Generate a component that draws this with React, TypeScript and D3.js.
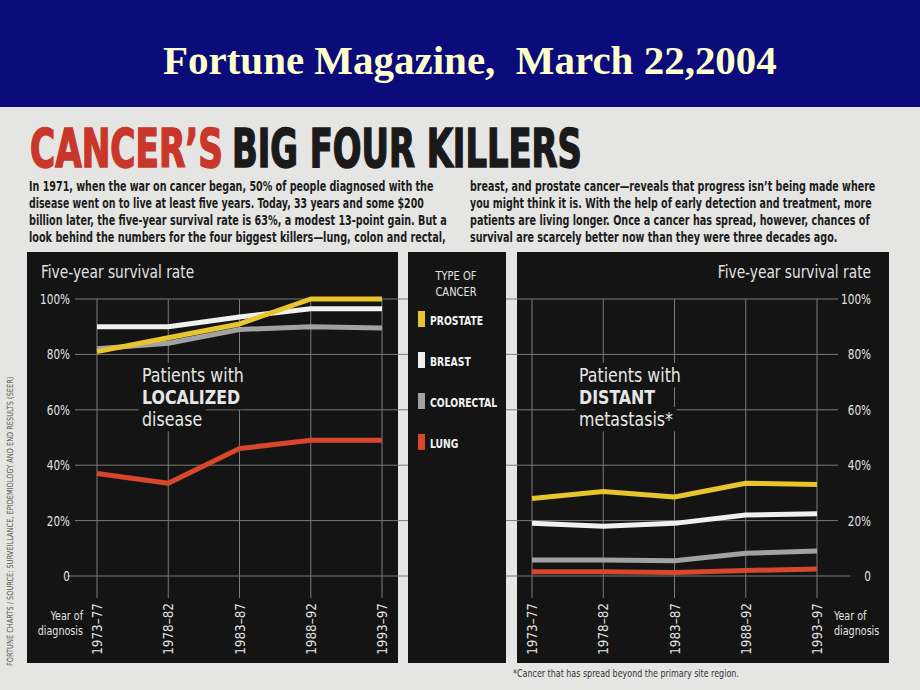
import React, { useLayoutEffect, useRef, useState } from 'react';
import * as d3 from 'd3';

// ---------- data ----------
const periods = ['1973–77', '1978–82', '1983–87', '1988–92', '1993–97'];
const cancerTypes = ['PROSTATE', 'BREAST', 'COLORECTAL', 'LUNG'];
const typeColors = ['#e6c62c', '#f0f0ee', '#a2a2a2', '#d8472b'];

const localizedProstate = [81, 86, 91, 100, 100];
const localizedBreast = [90, 90, 93.5, 96.5, 96.5];
const localizedColorectal = [82, 84, 89, 90, 89.5];
const localizedLung = [37, 33.5, 46, 49, 49];

const distantProstate = [28, 30.5, 28.5, 33.5, 33];
const distantBreast = [19, 18, 19, 22, 22.5];
const distantColorectal = [5.8, 5.8, 5.5, 8.2, 9];
const distantLung = [1.5, 1.5, 1.3, 2, 2.5];

const yTicks = [0, 20, 40, 60, 80, 100];
const yTickLabels = ['0', '20%', '40%', '60%', '80%', '100%'];

const bodyLeft = [
  'In 1971, when the war on cancer began, 50% of people diagnosed with the',
  'disease went on to live at least five years. Today, 33 years and some $200',
  'billion later, the five-year survival rate is 63%, a modest 13-point gain. But a',
  'look behind the numbers for the four biggest killers—lung, colon and rectal,',
];
const bodyRight = [
  'breast, and prostate cancer—reveals that progress isn’t being made where',
  'you might think it is. With the help of early detection and treatment, more',
  'patients are living longer. Once a cancer has spread, however, chances of',
  'survival are scarcely better now than they were three decades ago.',
];
const bodyLeftWidths = [405, 395, 418, 417];
const bodyRightWidths = [406, 402, 400, 368];

const NARROW = "'DejaVu Sans Condensed', 'Liberation Sans Narrow', Arial, sans-serif";

// ---------- helpers ----------
type LabelLine = { text: string; bold?: boolean };

function Txt({ x, y, sx = 1, rot = 0, children, ...rest }: any) {
  return (
    <text transform={`translate(${x},${y})${rot ? ` rotate(${rot})` : ''} scale(${sx},1)`} fontFamily={NARROW} {...rest}>
      {children}
    </text>
  );
}

// text horizontally scaled so that its rendered width equals `width`
function FitText({ x, y, width, rot = 0, children, ...rest }: any) {
  const ref = useRef<SVGTextElement | null>(null);
  const [s, setS] = useState(1);
  useLayoutEffect(() => {
    if (ref.current) {
      const w = ref.current.getComputedTextLength();
      if (w > 0) setS(width / w);
    }
  }, [width]);
  return (
    <text ref={ref} transform={`translate(${x},${y})${rot ? ` rotate(${rot})` : ''} scale(${s},1)`} fontFamily={NARROW} {...rest}>
      {children}
    </text>
  );
}

function BoxedLabel({ x, y, lines, fontSize, lineHeight, sx }: { x: number; y: number; lines: LabelLine[]; fontSize: number; lineHeight: number; sx: number }) {
  const refs = useRef<(SVGTextElement | null)[]>([]);
  const [boxes, setBoxes] = useState<{ x: number; y: number; w: number; h: number }[]>([]);
  useLayoutEffect(() => {
    const b = refs.current.map((el) => {
      if (!el) return { x: 0, y: 0, w: 0, h: 0 };
      const bb = el.getBBox();
      return { x: bb.x, y: bb.y, w: bb.width, h: bb.height };
    });
    setBoxes(b);
  }, []);
  return (
    <g transform={`translate(${x},${y}) scale(${sx},1)`}>
      {boxes.map((b, i) => (
        <rect key={'r' + i} x={b.x - 4} y={b.y - 1} width={b.w + 8} height={b.h + 2} fill="#141414" />
      ))}
      {lines.map((l, i) => (
        <text
          key={i}
          ref={(el) => { refs.current[i] = el; }}
          x={0}
          y={i * lineHeight}
          fontFamily={NARROW}
          fontSize={fontSize}
          fontWeight={l.bold ? 700 : 400}
          fill="#e6e6e6"
        >
          {l.text}
        </text>
      ))}
    </g>
  );
}

export default function App() {
  const W = 920, H = 690;
  const y = d3.scaleLinear().domain([0, 100]).range([576, 299]);
  const xLeft = d3.scalePoint<string>().domain(periods).range([97, 382]);
  const xRight = d3.scalePoint<string>().domain(periods).range([532, 817]);

  const leftSeries = [localizedLung, localizedColorectal, localizedBreast, localizedProstate];
  const rightSeries = [distantLung, distantColorectal, distantBreast, distantProstate];
  const seriesColors = [typeColors[3], typeColors[2], typeColors[1], typeColors[0]];

  const mkLine = (xs: d3.ScalePoint<string>) =>
    d3.line<number>().x((_, i) => xs(periods[i]) as number).y((d) => y(d));

  const panelFill = '#141414';
  const gridColor = '#7a7a7a';
  const textColor = '#e2e2e2';

  return (
    <svg width={W} height={H} style={{ position: 'absolute', left: 0, top: 0 }}>
      {/* page background */}
      <rect x={0} y={0} width={W} height={H} fill="#e5e5e3" />
      {/* blue banner */}
      <rect x={0} y={0} width={W} height={107} fill="#0b0b7c" />
      <FitText x={163} y={74} width={614} fontFamily="'Liberation Serif', 'Times New Roman', serif" fontWeight={700} fontSize={41} fill="#ffffcc" style={{ whiteSpace: 'pre' }}>
        {'Fortune Magazine,  March 22,2004'}
      </FitText>

      {/* headline */}
      <FitText x={30} y={167} width={193} fontWeight={700} fontSize={53} fill="#c8372a" stroke="#c8372a" strokeWidth={1.6}>CANCER’S</FitText>
      <FitText x={232} y={167} width={350} fontWeight={700} fontSize={53} fill="#1a1a1a" stroke="#1a1a1a" strokeWidth={1.6}>BIG FOUR KILLERS</FitText>

      {/* body text */}
      {bodyLeft.map((t, i) => (
        <FitText key={'bl' + i} x={29} y={191 + i * 17} width={bodyLeftWidths[i]} fontWeight={700} fontSize={13.5} fill="#1c1c1c">{t}</FitText>
      ))}
      {bodyRight.map((t, i) => (
        <FitText key={'br' + i} x={470} y={191 + i * 17} width={bodyRightWidths[i]} fontWeight={700} fontSize={13.5} fill="#1c1c1c">{t}</FitText>
      ))}

      {/* side credit */}
      <FitText x={13} y={666} rot={-90} width={290} fontSize={8.5} fill="#555">
        FORTUNE CHARTS / SOURCE: SURVEILLANCE, EPIDEMIOLOGY AND END RESULTS (SEER)
      </FitText>

      {/* panels */}
      <rect x={27} y={252} width={371} height={411} fill={panelFill} />
      <rect x={517} y={252} width={372} height={411} fill={panelFill} />

      {/* horizontal gridlines spanning both charts */}
      {yTicks.map((t) => (
        <line key={'h' + t} x1={t === 0 ? 67 : 75} x2={t === 0 ? 850 : 838} y1={y(t)} y2={y(t)} stroke={gridColor} strokeWidth={1} />
      ))}

      {/* legend panel */}
      <rect x={408} y={252} width={98} height={411} fill={panelFill} />

      {/* vertical gridlines */}
      {periods.map((p) => (
        <g key={'v' + p}>
          <line x1={xLeft(p)} x2={xLeft(p)} y1={y(100)} y2={598} stroke={gridColor} strokeWidth={1} />
          <line x1={xRight(p)} x2={xRight(p)} y1={y(100)} y2={598} stroke={gridColor} strokeWidth={1} />
        </g>
      ))}

      {/* y tick labels */}
      {yTicks.map((t, i) => (
        <g key={'yl' + t}>
          <Txt x={70} y={y(t)} sx={0.83} dy="0.36em" textAnchor="end" fontSize={14} fill={textColor}>{yTickLabels[i]}</Txt>
          <Txt x={871} y={y(t)} sx={0.83} dy="0.36em" textAnchor="end" fontSize={14} fill={textColor}>{yTickLabels[i]}</Txt>
        </g>
      ))}

      {/* axis titles */}
      <Txt x={41} y={278} sx={0.9} fontSize={17} fill={textColor}>Five-year survival rate</Txt>
      <Txt x={871} y={278} sx={0.9} textAnchor="end" fontSize={17} fill={textColor}>Five-year survival rate</Txt>

      {/* x labels */}
      {periods.map((p) => (
        <g key={'xl' + p}>
          <Txt x={xLeft(p)} y={603} rot={-90} sx={0.92} dy="0.36em" textAnchor="end" fontSize={14.5} fill={textColor}>{p}</Txt>
          <Txt x={xRight(p)} y={603} rot={-90} sx={0.92} dy="0.36em" textAnchor="end" fontSize={14.5} fill={textColor}>{p}</Txt>
        </g>
      ))}
      <Txt x={83} y={620} sx={0.82} textAnchor="end" fontSize={13} fill={textColor}>Year of</Txt>
      <Txt x={83} y={635} sx={0.82} textAnchor="end" fontSize={13} fill={textColor}>diagnosis</Txt>
      <Txt x={834} y={620} sx={0.82} fontSize={13} fill={textColor}>Year of</Txt>
      <Txt x={834} y={635} sx={0.82} fontSize={13} fill={textColor}>diagnosis</Txt>

      {/* panel annotations */}
      <BoxedLabel x={142} y={382} fontSize={20} lineHeight={22} sx={0.88} lines={[{ text: 'Patients with' }, { text: 'LOCALIZED', bold: true }, { text: 'disease' }]} />
      <BoxedLabel x={579} y={382} fontSize={20} lineHeight={22} sx={0.88} lines={[{ text: 'Patients with' }, { text: 'DISTANT', bold: true }, { text: 'metastasis*' }]} />

      {/* data lines */}
      {leftSeries.map((s, i) => (
        <path key={'ls' + i} d={mkLine(xLeft)(s) || ''} fill="none" stroke={seriesColors[i]} strokeWidth={5} strokeLinejoin="round" />
      ))}
      {rightSeries.map((s, i) => (
        <path key={'rs' + i} d={mkLine(xRight)(s) || ''} fill="none" stroke={seriesColors[i]} strokeWidth={5} strokeLinejoin="round" />
      ))}

      {/* legend */}
      <Txt x={456} y={280} sx={0.88} textAnchor="middle" fontSize={12.5} fill={textColor}>TYPE OF</Txt>
      <Txt x={456} y={296} sx={0.88} textAnchor="middle" fontSize={12.5} fill={textColor}>CANCER</Txt>
      {cancerTypes.map((c, i) => (
        <g key={'lg' + c} transform={`translate(0,${i * 41})`}>
          <rect x={418} y={311} width={7} height={16} fill={typeColors[i]} />
          <Txt x={430} y={325} sx={0.86} fontWeight={700} fontSize={12} fill="#f2f2f2">{c}</Txt>
        </g>
      ))}

      {/* footnote */}
      <FitText x={513} y={677} width={226} fontSize={11} fill="#333">*Cancer that has spread beyond the primary site region.</FitText>
    </svg>
  );
}
